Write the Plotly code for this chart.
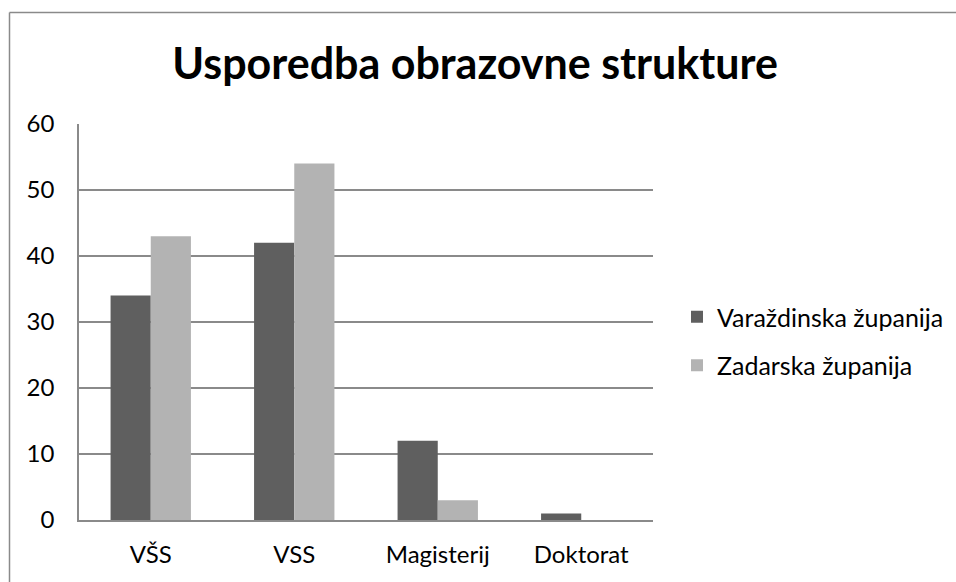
import plotly.graph_objects as go

categories = ["VŠS", "VSS", "Magisterij", "Doktorat"]
varazdinska = [34, 42, 12, 1]
zadarska = [43, 54, 3, 0]
series_names = ["Varaždinska županija", "Zadarska županija"]
y_ticks = [0, 10, 20, 30, 40, 50, 60]

W, H = 956, 582
ML, MR, MT, MB = 79, 303, 124, 62
pw, ph = W - ML - MR, H - MT - MB

FONT = "Lato"

fig = go.Figure()
fig.add_trace(go.Bar(x=categories, y=varazdinska, name=series_names[0], legendgroup="g1",
                     marker=dict(color="#5f5f5f", line=dict(width=0))))
fig.add_trace(go.Bar(x=categories, y=zadarska, name=series_names[1], legendgroup="g2",
                     marker=dict(color="#b3b3b3", line=dict(width=0))))

# outer chart frame (top and left edges visible)
fx0 = (9.5 - ML) / pw
fy1 = 1 + (MT - 12.5) / ph
fx1 = (W - ML) / pw
fy0 = -MB / ph
fig.add_shape(type="line", xref="paper", yref="paper", x0=fx0, x1=fx1, y0=fy1, y1=fy1,
              line=dict(color="#8a8a8a", width=1.5))
fig.add_shape(type="line", xref="paper", yref="paper", x0=fx0, x1=fx0, y0=fy0, y1=fy1,
              line=dict(color="#8a8a8a", width=1.5))

fig.update_layout(
    width=W, height=H,
    margin=dict(l=ML, r=MR, t=MT, b=MB, autoexpand=False),
    paper_bgcolor="white", plot_bgcolor="white",
    font=dict(family=FONT, color="#000000", size=24),
    title=dict(text="<b>Usporedba obrazovne strukture</b>", x=0.497, xanchor="center",
               y=1 - 64 / H, yanchor="middle", font=dict(size=43, family=FONT)),
    barmode="group", bargap=0.44, bargroupgap=0,
    showlegend=True,
    legend=dict(x=(677 - ML) / pw, xanchor="left", y=(520 - 341) / ph, yanchor="middle",
                font=dict(size=25, family=FONT), tracegroupgap=13),
    xaxis=dict(showline=True, linecolor="#8a8a8a", linewidth=1.5, ticks="", showgrid=False,
               tickfont=dict(size=24), ticklabelstandoff=12, automargin=False),
    yaxis=dict(range=[0, 60], tickvals=y_ticks, showgrid=True, gridcolor="#8a8a8a", gridwidth=1.5,
               showline=True, linecolor="#8a8a8a", linewidth=1.5, ticks="", zeroline=False,
               tickfont=dict(size=24), ticklabelstandoff=18, automargin=False),
)

fig.write_html("out.html", config={"displayModeBar": False},
               post_script="document.body.style.margin='0';")
